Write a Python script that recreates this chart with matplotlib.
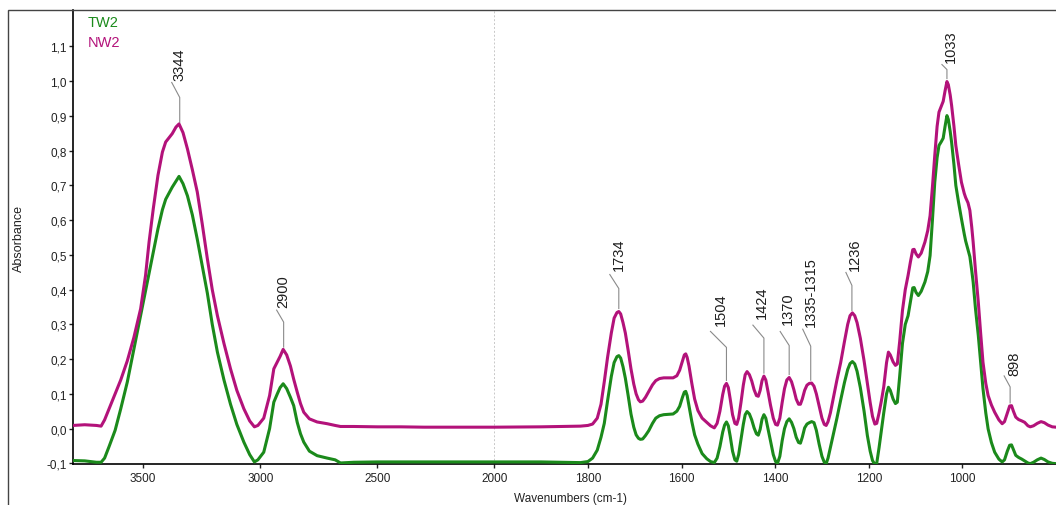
import numpy as np
import matplotlib
matplotlib.use('Agg')
import matplotlib.pyplot as plt
from matplotlib.patches import Rectangle
from matplotlib.ticker import FixedLocator, FuncFormatter

# spectra (wavenumber in cm-1, descending)
wavenumber = [3800, 3750, 3700, 3680, 3665, 3646, 3620, 3596, 3568, 3540, 3511, 3490, 3475, 3457,
              3437, 3418, 3404, 3376, 3360, 3347, 3330, 3311, 3290, 3269, 3248, 3226, 3205, 3183,
              3155, 3127, 3100, 3070, 3045, 3025, 3010, 2985, 2960, 2942, 2927, 2915, 2902, 2887,
              2871, 2857, 2842, 2828, 2814, 2790, 2757, 2714, 2680, 2657, 2600, 2500, 2400, 2300,
              2200, 2100, 2000, 1900, 1860, 1816,
              1800, 1790, 1780, 1772, 1765, 1758, 1750, 1744, 1738, 1734,
              1730, 1725, 1720, 1714, 1708, 1702, 1697, 1692, 1688, 1683,
              1677, 1670, 1662, 1655, 1647, 1638, 1628, 1618, 1610, 1604,
              1598, 1594, 1591, 1588, 1584, 1578, 1572, 1565, 1556, 1546,
              1538, 1530, 1524, 1518, 1512, 1508, 1504, 1500, 1496, 1491,
              1486, 1482, 1478, 1473, 1468, 1464, 1460, 1455, 1450, 1445,
              1440, 1436, 1432, 1428, 1424, 1420, 1415, 1410, 1404, 1399,
              1395, 1390, 1385, 1380, 1375, 1370, 1365, 1360, 1355, 1350,
              1346, 1342, 1337, 1332, 1327, 1322, 1317, 1312, 1306, 1300,
              1295, 1291, 1287, 1282, 1276, 1268, 1260, 1252, 1245, 1240,
              1235, 1230, 1225, 1218, 1210, 1203, 1197, 1192, 1187, 1183,
              1178, 1173, 1168, 1162, 1158, 1154, 1148, 1143, 1139, 1134,
              1128, 1122, 1116, 1111, 1106, 1103, 1099, 1094, 1088, 1080,
              1074, 1069, 1064, 1059, 1054, 1050, 1045, 1041, 1037, 1033,
              1030, 1026, 1023, 1018, 1014, 1008, 1002, 996, 993, 988,
              984, 980, 977, 972, 966, 961, 956, 950, 945, 938,
              931, 922, 915, 910, 904, 899, 895, 891, 886, 880,
              873, 867, 860, 855, 848, 840, 832, 825, 817, 808,
              800]

nw2 = [0.009, 0.011, 0.009, 0.007, 0.025, 0.057, 0.100, 0.140, 0.195, 0.262, 0.345, 0.441, 0.537, 0.633,
       0.729, 0.796, 0.825, 0.849, 0.868, 0.877, 0.852, 0.805, 0.745, 0.681, 0.590, 0.489, 0.400, 0.325,
       0.245, 0.172, 0.110, 0.057, 0.022, 0.005, 0.009, 0.030, 0.095, 0.172, 0.192, 0.208, 0.228, 0.212,
       0.180, 0.142, 0.105, 0.072, 0.047, 0.028, 0.019, 0.014, 0.009, 0.006, 0.006, 0.005, 0.005, 0.004,
       0.004, 0.004, 0.004, 0.005, 0.006, 0.007,
       0.009, 0.013, 0.030, 0.070, 0.135, 0.205, 0.275, 0.318, 0.334, 0.337,
       0.330, 0.305, 0.275, 0.225, 0.172, 0.128, 0.100, 0.083, 0.077, 0.079,
       0.090, 0.107, 0.126, 0.138, 0.144, 0.146, 0.146, 0.146, 0.152, 0.168,
       0.195, 0.212, 0.215, 0.205, 0.180, 0.130, 0.085, 0.052, 0.030, 0.018,
       0.008, 0.002, 0.015, 0.050, 0.098, 0.122, 0.130, 0.118, 0.085, 0.040,
       0.015, 0.012, 0.030, 0.075, 0.125, 0.155, 0.164, 0.155, 0.137, 0.112,
       0.095, 0.093, 0.110, 0.138, 0.151, 0.140, 0.105, 0.068, 0.030, 0.012,
       0.010, 0.030, 0.075, 0.115, 0.140, 0.147, 0.135, 0.112, 0.085, 0.070,
       0.070, 0.085, 0.110, 0.125, 0.130, 0.131, 0.122, 0.100, 0.065, 0.030,
       0.012, 0.009, 0.020, 0.045, 0.086, 0.140, 0.190, 0.250, 0.300, 0.325,
       0.333, 0.325, 0.305, 0.260, 0.195, 0.130, 0.075, 0.035, 0.013, 0.015,
       0.045, 0.080, 0.120, 0.190, 0.220, 0.212, 0.192, 0.182, 0.186, 0.250,
       0.340, 0.400, 0.441, 0.480, 0.515, 0.516, 0.503, 0.494, 0.505, 0.537,
       0.570, 0.613, 0.695, 0.786, 0.870, 0.911, 0.928, 0.942, 0.972, 0.999,
       0.990, 0.960, 0.930, 0.870, 0.815, 0.760, 0.709, 0.677, 0.665, 0.650,
       0.628, 0.580, 0.537, 0.455, 0.364, 0.275, 0.191, 0.130, 0.095, 0.068,
       0.047, 0.025, 0.014, 0.020, 0.045, 0.065, 0.066, 0.050, 0.033, 0.026,
       0.022, 0.018, 0.008, 0.005, 0.008, 0.015, 0.020, 0.017, 0.010, 0.005,
       0.004]

tw2 = [-0.092, -0.093, -0.097, -0.097, -0.085, -0.052, -0.005, 0.057, 0.134, 0.228, 0.325, 0.395, 0.445, 0.508,
       0.575, 0.630, 0.660, 0.695, 0.712, 0.726, 0.705, 0.670, 0.615, 0.545, 0.470, 0.390, 0.300, 0.220,
       0.140, 0.070, 0.012, -0.039, -0.075, -0.096, -0.090, -0.068, 0.000, 0.076, 0.100, 0.118, 0.129, 0.115,
       0.090, 0.066, 0.018, -0.015, -0.039, -0.065, -0.078, -0.085, -0.090, -0.099, -0.097, -0.096, -0.096, -0.096,
       -0.096, -0.096, -0.096, -0.096, -0.097, -0.098,
       -0.095, -0.085, -0.062, -0.025, 0.015, 0.080, 0.150, 0.190, 0.207, 0.210,
       0.203, 0.178, 0.145, 0.095, 0.042, 0.004, -0.018, -0.028, -0.031, -0.030,
       -0.020, -0.006, 0.015, 0.030, 0.037, 0.040, 0.041, 0.042, 0.050, 0.064,
       0.090, 0.105, 0.107, 0.095, 0.065, 0.020, -0.018, -0.045, -0.072, -0.087,
       -0.095, -0.098, -0.085, -0.052, -0.010, 0.010, 0.019, 0.008, -0.022, -0.065,
       -0.090, -0.094, -0.075, -0.032, 0.012, 0.040, 0.049, 0.042, 0.025, 0.002,
       -0.015, -0.019, -0.002, 0.027, 0.040, 0.030, -0.002, -0.035, -0.075, -0.095,
       -0.100, -0.080, -0.035, 0.000, 0.020, 0.028, 0.018, 0.000, -0.025, -0.040,
       -0.042, -0.025, 0.002, 0.013, 0.017, 0.020, 0.017, -0.005, -0.045, -0.080,
       -0.097, -0.101, -0.085, -0.055, -0.020, 0.030, 0.082, 0.132, 0.170, 0.187,
       0.193, 0.186, 0.165, 0.118, 0.050, -0.020, -0.065, -0.092, -0.103, -0.100,
       -0.055, -0.005, 0.045, 0.100, 0.119, 0.110, 0.085, 0.072, 0.076, 0.150,
       0.245, 0.300, 0.325, 0.365, 0.405, 0.406, 0.392, 0.383, 0.395, 0.422,
       0.452, 0.498, 0.600, 0.709, 0.780, 0.815, 0.826, 0.836, 0.870, 0.901,
       0.890, 0.855, 0.824, 0.760, 0.700, 0.650, 0.604, 0.560, 0.540, 0.515,
       0.495, 0.455, 0.422, 0.345, 0.268, 0.190, 0.115, 0.045, -0.001, -0.040,
       -0.068, -0.088, -0.096, -0.090, -0.065, -0.048, -0.047, -0.060, -0.077, -0.083,
       -0.088, -0.093, -0.099, -0.101, -0.097, -0.090, -0.085, -0.089, -0.096, -0.100,
       -0.101]

x_ticks = [3500, 3000, 2500, 2000, 1800, 1600, 1400, 1200, 1000]
y_ticks = [-0.1, 0.0, 0.1, 0.2, 0.3, 0.4, 0.5, 0.6, 0.7, 0.8, 0.9, 1.0, 1.1]

peak_labels = ['3344', '2900', '1734', '1504', '1424', '1370', '1335-1315', '1236', '1033', '898']
peak_wn = [3344, 2900, 1734, 1504, 1424, 1370, 1324, 1236, 1033, 898]

# leader geometry in pixels above the peak: vertical top, kink dx, kink top, text dx, text bottom
leaders = [(28, -8, 43, 0, 45), (28, -7, 40, 0, 43), (23, -9, 37, 0, 42), (36, -16, 52, -6, 58),
           (38, -11, 51, -2, 58), (32, -9, 46, -1, 54), (37, -8, 54, 0, 57), (28, -6, 41, 3, 43),
           (12, -5, 17, 4, 20), (19, -6, 30, 4, 31)]

GREEN = '#1b8a1b'
MAGENTA = '#b3127a'

plt.rcParams['font.family'] = ['Liberation Sans', 'DejaVu Sans']

W, H = 1056, 506
fig = plt.figure(figsize=(W / 100, H / 100), dpi=100)
ax = fig.add_axes([73 / W, 1 - 465 / H, (W - 73) / W, (465 - 11) / H])


# the region above 2000 cm-1 is compressed by a factor of 2
def fwd(x):
    x = np.asarray(x, dtype=float)
    return np.where(x > 2000, 2000 + (x - 2000) / 2, x)


def inv(y):
    y = np.asarray(y, dtype=float)
    return np.where(y > 2000, 2000 + (y - 2000) * 2, y)


ax.set_xscale('function', functions=(fwd, inv))

ax.axvline(2000, color='#c8c8c8', lw=0.7, ls=(0, (2, 2)), zorder=1)
ax.plot(wavenumber, tw2, color=GREEN, lw=2.2, solid_joinstyle='round', zorder=3)
ax.plot(wavenumber, nw2, color=MAGENTA, lw=2.2, solid_joinstyle='round', zorder=3)

ax.set_xlim(3800, 800)
ax.set_ylim(-0.102, 1.205)

ax.xaxis.set_major_locator(FixedLocator(x_ticks))
ax.xaxis.set_major_formatter(FuncFormatter(lambda v, p: f'{v:.0f}'))
ax.xaxis.set_minor_locator(FixedLocator([]))
ax.yaxis.set_major_locator(FixedLocator(y_ticks))
ax.yaxis.set_major_formatter(FuncFormatter(lambda v, p: f'{v:.1f}'.replace('.', ',').replace('-0,0', '0,0')))
ax.tick_params(axis='both', direction='out', length=3, width=1, labelsize=8.5, colors='#222222')
ax.tick_params(axis='x', pad=3)
ax.tick_params(axis='y', pad=1.5)

for side in ['top', 'right']:
    ax.spines[side].set_visible(False)
for side in ['left', 'bottom']:
    ax.spines[side].set_linewidth(1.2)
    ax.spines[side].set_color('black')

ax.set_xlabel('Wavenumbers (cm-1)', fontsize=8.5, color='#222222')
ax.xaxis.set_label_coords((570 - 73) / (W - 73), -0.062)
ax.set_ylabel('Absorbance', fontsize=9, color='#222222')
ax.yaxis.set_label_coords(-0.049, 0.5)

# legend as coloured names
fig.text(88 / W, 1 - 23 / H, 'TW2', color=GREEN, fontsize=10.5, ha='left', va='center')
fig.text(88 / W, 1 - 43 / H, 'NW2', color=MAGENTA, fontsize=10.5, ha='left', va='center')

# peak labels with leader lines
wn_inc = np.array(wavenumber[::-1])
nw2_inc = np.array(nw2[::-1])
to_data = ax.transData.inverted()
for label, wn, (vtop, ddx, dtop, tdx, tbot) in zip(peak_labels, peak_wn, leaders):
    yp = np.interp(wn, wn_inc, nw2_inc)
    px, py = ax.transData.transform((wn, yp))
    pts = to_data.transform([(px, py + 3), (px, py + vtop), (px + ddx, py + dtop)])
    ax.plot(pts[:, 0], pts[:, 1], color='#8a8a8a', lw=0.8, clip_on=False, zorder=2)
    tx, ty = to_data.transform((px + tdx, py + tbot))
    ax.text(tx, ty, label, rotation=90, ha='center', va='bottom', fontsize=10.5, color='#1e1e1e')

# outer frame around the plot
fig.add_artist(Rectangle((8 / W, -0.05), 1.2, 1 - 11 / H + 0.05, transform=fig.transFigure,
                         fill=False, ec='#444444', lw=1))

fig.savefig('out.png', dpi=100)
